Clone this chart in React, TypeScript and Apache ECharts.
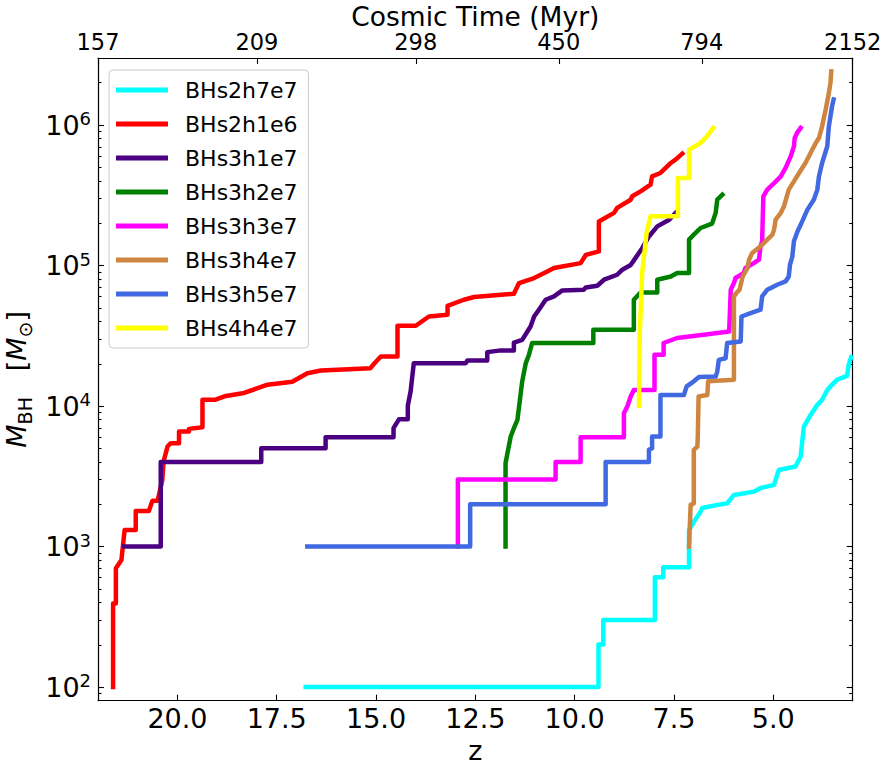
import React, { useEffect, useRef } from 'react';
import * as echarts from 'echarts';

const FONT = 'DejaVu Sans';

const seriesNames = ['BHs2h7e7', 'BHs2h1e6', 'BHs3h1e7', 'BHs3h2e7', 'BHs3h3e7', 'BHs3h4e7', 'BHs3h5e7', 'BHs4h4e7'];
const seriesColors = ['#00ffff', '#ff0000', '#4b0082', '#008000', '#ff00ff', '#cd853f', '#4169e1', '#ffff00'];

// [redshift z, M_BH (Msun)]
const bhs2h7e7 = [
  [16.77, 100], [9.40, 100], [9.40, 201], [9.28, 201], [9.28, 300], [7.98, 300], [7.98, 604], [7.77, 604],
  [7.77, 713], [7.12, 713], [7.12, 1310], [7.00, 1500], [6.83, 1770], [6.79, 1880], [6.41, 1980], [6.16, 2030],
  [5.99, 2330], [5.49, 2460], [5.32, 2610], [4.98, 2750], [4.86, 3510], [4.44, 3710], [4.31, 4370], [4.23, 7140],
  [4.06, 8650], [3.89, 10200], [3.77, 11100], [3.64, 13000], [3.56, 13800], [3.39, 15400], [3.14, 16400],
  [3.10, 19700], [3.04, 22300],
];
const bhs2h1e6 = [
  [21.62, 100], [21.62, 394], [21.55, 394], [21.55, 701], [21.41, 803], [21.33, 1310], [21.05, 1310], [21.05, 1790],
  [20.72, 1790], [20.63, 2120], [20.50, 2120], [20.38, 2980], [20.35, 4020], [20.25, 5150], [20.17, 5440],
  [19.96, 5440], [19.96, 6580], [19.71, 6580], [19.71, 6880], [19.37, 7070], [19.37, 11100], [19.04, 11100],
  [18.78, 11800], [18.32, 12400], [17.73, 14200], [17.11, 14900], [16.73, 17100], [16.39, 17900], [15.14, 18600],
  [15.05, 20000], [14.88, 22500], [14.46, 22500], [14.46, 37300], [14.00, 37300], [13.67, 43400], [13.20, 44600],
  [13.20, 51700], [12.79, 57100], [12.53, 59700], [11.53, 63000], [11.40, 75100], [11.02, 81500], [10.69, 90800],
  [10.52, 96000], [9.85, 104000], [9.72, 119000], [9.39, 126000], [9.39, 206000], [9.01, 237000], [8.93, 257000],
  [8.59, 294000], [8.55, 311000], [8.34, 337000], [8.09, 376000], [8.05, 431000], [7.84, 456000], [7.67, 508000],
  [7.58, 537000], [7.46, 567000], [7.29, 626000],
];
const bhs3h1e7 = [
  [21.34, 1000], [20.42, 1000], [20.42, 4000], [17.89, 4000], [17.89, 5000], [16.27, 5000], [16.27, 6000],
  [14.56, 6000], [14.56, 6960], [14.42, 8070], [14.20, 8070], [14.20, 10100], [14.13, 12700], [14.05, 20200],
  [12.74, 20200], [12.70, 21100], [12.20, 21100], [12.20, 24200], [11.86, 24900], [11.53, 24900], [11.53, 28300],
  [11.32, 29600], [11.19, 33900], [11.11, 36800], [11.02, 43400], [10.90, 48500], [10.73, 57100], [10.52, 60300],
  [10.31, 66500], [9.77, 67300], [9.72, 69900], [9.43, 71800], [9.26, 79300], [8.93, 86000], [8.80, 93400],
  [8.59, 101000], [8.47, 113000], [8.30, 133000], [8.13, 161000], [7.92, 190000], [7.62, 212000], [7.46, 237000],
];
const bhs3h2e7 = [
  [11.74, 1000], [11.74, 3920], [11.61, 6070], [11.53, 6960], [11.44, 7980], [11.32, 15000], [11.23, 20200],
  [11.15, 23200], [11.07, 28100], [9.53, 28100], [9.53, 34900], [8.51, 34900], [8.51, 57100], [8.34, 64300],
  [7.92, 64300], [7.92, 79300], [7.58, 83600], [7.42, 88500], [7.12, 88500], [7.12, 153000], [7.00, 166000],
  [6.83, 185000], [6.54, 199000], [6.45, 237000], [6.41, 294000], [6.28, 319000],
];
const bhs3h3e7 = [
  [12.94, 1000], [12.94, 3000], [10.48, 3000], [10.48, 4000], [9.85, 4000], [9.85, 6000], [8.76, 6000],
  [8.76, 8900], [8.67, 10000], [8.59, 11700], [8.51, 13000], [7.99, 13000], [7.99, 23200], [7.76, 23200],
  [7.76, 28100], [7.42, 30500], [6.75, 32200], [6.11, 33900], [6.07, 67300], [5.99, 75100], [5.95, 81500],
  [5.74, 88500], [5.70, 96000], [5.49, 104000], [5.36, 110000], [5.32, 137000], [5.28, 149000], [5.25, 311000],
  [5.15, 347000], [5.02, 376000], [4.81, 431000], [4.69, 495000], [4.56, 598000], [4.48, 705000], [4.46, 809000],
  [4.40, 879000], [4.31, 954000],
];
const bhs3h4e7 = [
  [7.12, 1000], [7.08, 1980], [7.00, 2030], [7.00, 4880], [6.91, 5150], [6.90, 6070], [6.88, 11700], [6.66, 12000],
  [6.64, 15000], [5.99, 15400], [5.99, 60300], [5.93, 63700], [5.85, 67300], [5.77, 83600], [5.65, 96000],
  [5.61, 110000], [5.53, 123000], [5.32, 137000], [5.19, 149000], [5.02, 166000], [4.98, 180000], [4.94, 212000],
  [4.81, 237000], [4.73, 264000], [4.61, 347000], [4.48, 397000], [4.35, 456000], [4.19, 537000], [4.06, 633000],
  [3.93, 746000], [3.85, 809000], [3.77, 979000], [3.68, 1290000], [3.60, 1690000], [3.56, 2000000],
  [3.54, 2410000],
];
const bhs3h5e7 = [
  [16.73, 1000], [12.63, 1000], [12.63, 2000], [9.22, 2000], [9.22, 4000], [8.13, 4000], [8.13, 4880],
  [8.05, 5010], [8.05, 6070], [7.84, 6070], [7.84, 12000], [7.25, 12000], [7.18, 13800], [7.00, 15000],
  [6.87, 16100], [6.45, 16200], [6.41, 17600], [6.37, 21300], [6.20, 21900], [6.16, 28100], [5.82, 28800],
  [5.80, 43400], [5.57, 45900], [5.32, 48500], [5.28, 60300], [5.15, 67300], [4.90, 73000], [4.69, 77100],
  [4.61, 83600], [4.58, 101000], [4.52, 116000], [4.48, 149000], [4.39, 175000], [4.31, 195000], [4.14, 250000],
  [3.98, 294000], [3.89, 347000], [3.85, 431000], [3.77, 537000], [3.64, 706000], [3.60, 980000],
  [3.52, 1360000], [3.48, 1520000],
];
const bhs4h4e7 = [
  [8.38, 10000], [8.36, 33100], [8.30, 88500], [8.19, 170000], [8.09, 224000], [7.40, 224000], [7.40, 420000],
  [7.12, 420000], [7.12, 668000], [7.00, 698000], [6.83, 746000], [6.67, 831000], [6.51, 954000],
];
const seriesData = [bhs2h7e7, bhs2h1e6, bhs3h1e7, bhs3h2e7, bhs3h3e7, bhs3h4e7, bhs3h5e7, bhs4h4e7];

const zTicks = [20, 17.5, 15, 12.5, 10, 7.5, 5];
const timeTickZ = [22, 18, 14, 10.4, 6.8, 3];
const timeTickLabels = ['157', '209', '298', '450', '794', '2152'];
const massMajorTicks = [1e2, 1e3, 1e4, 1e5, 1e6];
const massMinorTicks: number[] = [];
for (let e = 1; e <= 6; e++) {
  for (let k = 2; k <= 9; k++) {
    const v = k * Math.pow(10, e);
    if (v > 80 && v < 3e6) massMinorTicks.push(v);
  }
}

export default function App() {
  const ref = useRef<HTMLDivElement>(null);
  useEffect(() => {
    if (!ref.current) return;
    const chart = echarts.init(ref.current, undefined, { renderer: 'svg' });
    const axisLineStyle = { color: '#000', width: 1.2 };
    const tickStyle = { color: '#000', width: 1.1 };
    const yBase: any = { type: 'log', logBase: 10, min: 80, max: 3e6, splitLine: { show: false } };
    const option: any = {
      animation: false,
      backgroundColor: '#fff',
      textStyle: { fontFamily: FONT },
      grid: { left: 98, top: 58, right: 31.3, bottom: 64.3, containLabel: false, outerBoundsMode: 'none' },
      legend: {
        orient: 'vertical',
        left: 109,
        top: 70,
        padding: [9, 11, 9, 7],
        itemGap: 12,
        itemWidth: 52,
        itemHeight: 5,
        icon: 'rect',
        backgroundColor: 'rgba(255,255,255,0.8)',
        borderColor: '#cccccc',
        borderWidth: 1,
        borderRadius: 4,
        textStyle: { fontSize: 22, fontFamily: FONT, color: '#000', lineHeight: 22, padding: [0, 0, 0, 12] },
        data: seriesNames,
      },
      xAxis: [
        {
          type: 'value', position: 'bottom', min: 3, max: 22, inverse: true,
          splitLine: { show: false },
          axisLine: { show: true, onZero: false, lineStyle: axisLineStyle },
          axisTick: { show: true, inside: true, length: 6, lineStyle: tickStyle, customValues: zTicks },
          axisLabel: {
            show: true, customValues: zTicks, margin: 4, fontSize: 27, color: '#000', fontFamily: FONT,
            formatter: (v: number) => v.toFixed(1),
          },
          name: 'z', nameLocation: 'middle', nameGap: 29,
          nameTextStyle: { fontSize: 27, color: '#000', fontFamily: FONT },
        },
        {
          type: 'value', position: 'top', min: 3, max: 22, inverse: true,
          splitLine: { show: false },
          axisLine: { show: true, onZero: false, lineStyle: axisLineStyle },
          axisTick: { show: true, inside: true, length: 6, lineStyle: tickStyle, customValues: timeTickZ },
          axisLabel: {
            show: true, customValues: timeTickZ, margin: 6, fontSize: 22.5, lineHeight: 20, color: '#000',
            fontFamily: FONT, showMinLabel: true, showMaxLabel: true,
            formatter: (v: number) => {
              const i = timeTickZ.findIndex((t) => Math.abs(t - v) < 1e-6);
              return i >= 0 ? timeTickLabels[i] : '';
            },
          },
          name: 'Cosmic Time (Myr)', nameLocation: 'middle', nameGap: 29, nameMoveOverlap: false,
          nameTextStyle: { fontSize: 26.5, color: '#000', fontFamily: FONT, lineHeight: 26 },
        },
      ],
      yAxis: [
        {
          ...yBase, position: 'left',
          axisLine: { show: true, onZero: false, lineStyle: axisLineStyle },
          axisTick: { show: true, inside: true, length: 6, lineStyle: tickStyle, customValues: massMajorTicks },
          axisLabel: {
            show: true, customValues: massMajorTicks, margin: 7, color: '#000', fontFamily: FONT,
            formatter: (v: number) => `{b|10}{s|${Math.round(Math.log10(v))}}`,
            rich: {
              b: { fontSize: 27, lineHeight: 31, fontFamily: FONT, color: '#000' },
              s: { fontSize: 18, lineHeight: 18, verticalAlign: 'top', fontFamily: FONT, color: '#000' },
            },
          },
          name: '{i|M}{sub|BH}{t|   [}{i|M}{sub|⊙}{t|]}',
          nameLocation: 'middle', nameGap: 52, nameRotate: 90,
          nameTextStyle: {
            fontSize: 27, color: '#000', fontFamily: FONT, lineHeight: 35,
            rich: {
              i: { fontSize: 27, fontStyle: 'italic', lineHeight: 35, fontFamily: FONT, color: '#000' },
              t: { fontSize: 27, lineHeight: 35, fontFamily: FONT, color: '#000' },
              sub: { fontSize: 19, lineHeight: 19, verticalAlign: 'bottom', fontFamily: FONT, color: '#000' },
            },
          },
        },
        {
          ...yBase, position: 'left',
          axisLine: { show: false },
          axisTick: { show: true, inside: true, length: 3.5, lineStyle: tickStyle, customValues: massMinorTicks },
          axisLabel: { show: false },
        },
        {
          ...yBase, position: 'right',
          axisLine: { show: true, onZero: false, lineStyle: axisLineStyle },
          axisTick: { show: true, inside: true, length: 6, lineStyle: tickStyle, customValues: massMajorTicks },
          axisLabel: { show: false },
        },
        {
          ...yBase, position: 'right',
          axisLine: { show: false },
          axisTick: { show: true, inside: true, length: 3.5, lineStyle: tickStyle, customValues: massMinorTicks },
          axisLabel: { show: false },
        },
      ],
      series: seriesNames.map((name, i) => ({
        name,
        type: 'line',
        xAxisIndex: 0,
        yAxisIndex: 0,
        data: seriesData[i],
        showSymbol: false,
        symbol: 'none',
        color: seriesColors[i],
        itemStyle: { color: seriesColors[i] },
        lineStyle: { color: seriesColors[i], width: 4.5, join: 'round', cap: 'square' },
        emphasis: { disabled: true },
        z: 2 + i,
      })),
    };
    chart.setOption(option);
    return () => chart.dispose();
  }, []);
  return (
    <div
      ref={ref}
      style={{ position: 'fixed', left: 0, top: 0, width: 884, height: 765, background: '#fff' }}
    />
  );
}
